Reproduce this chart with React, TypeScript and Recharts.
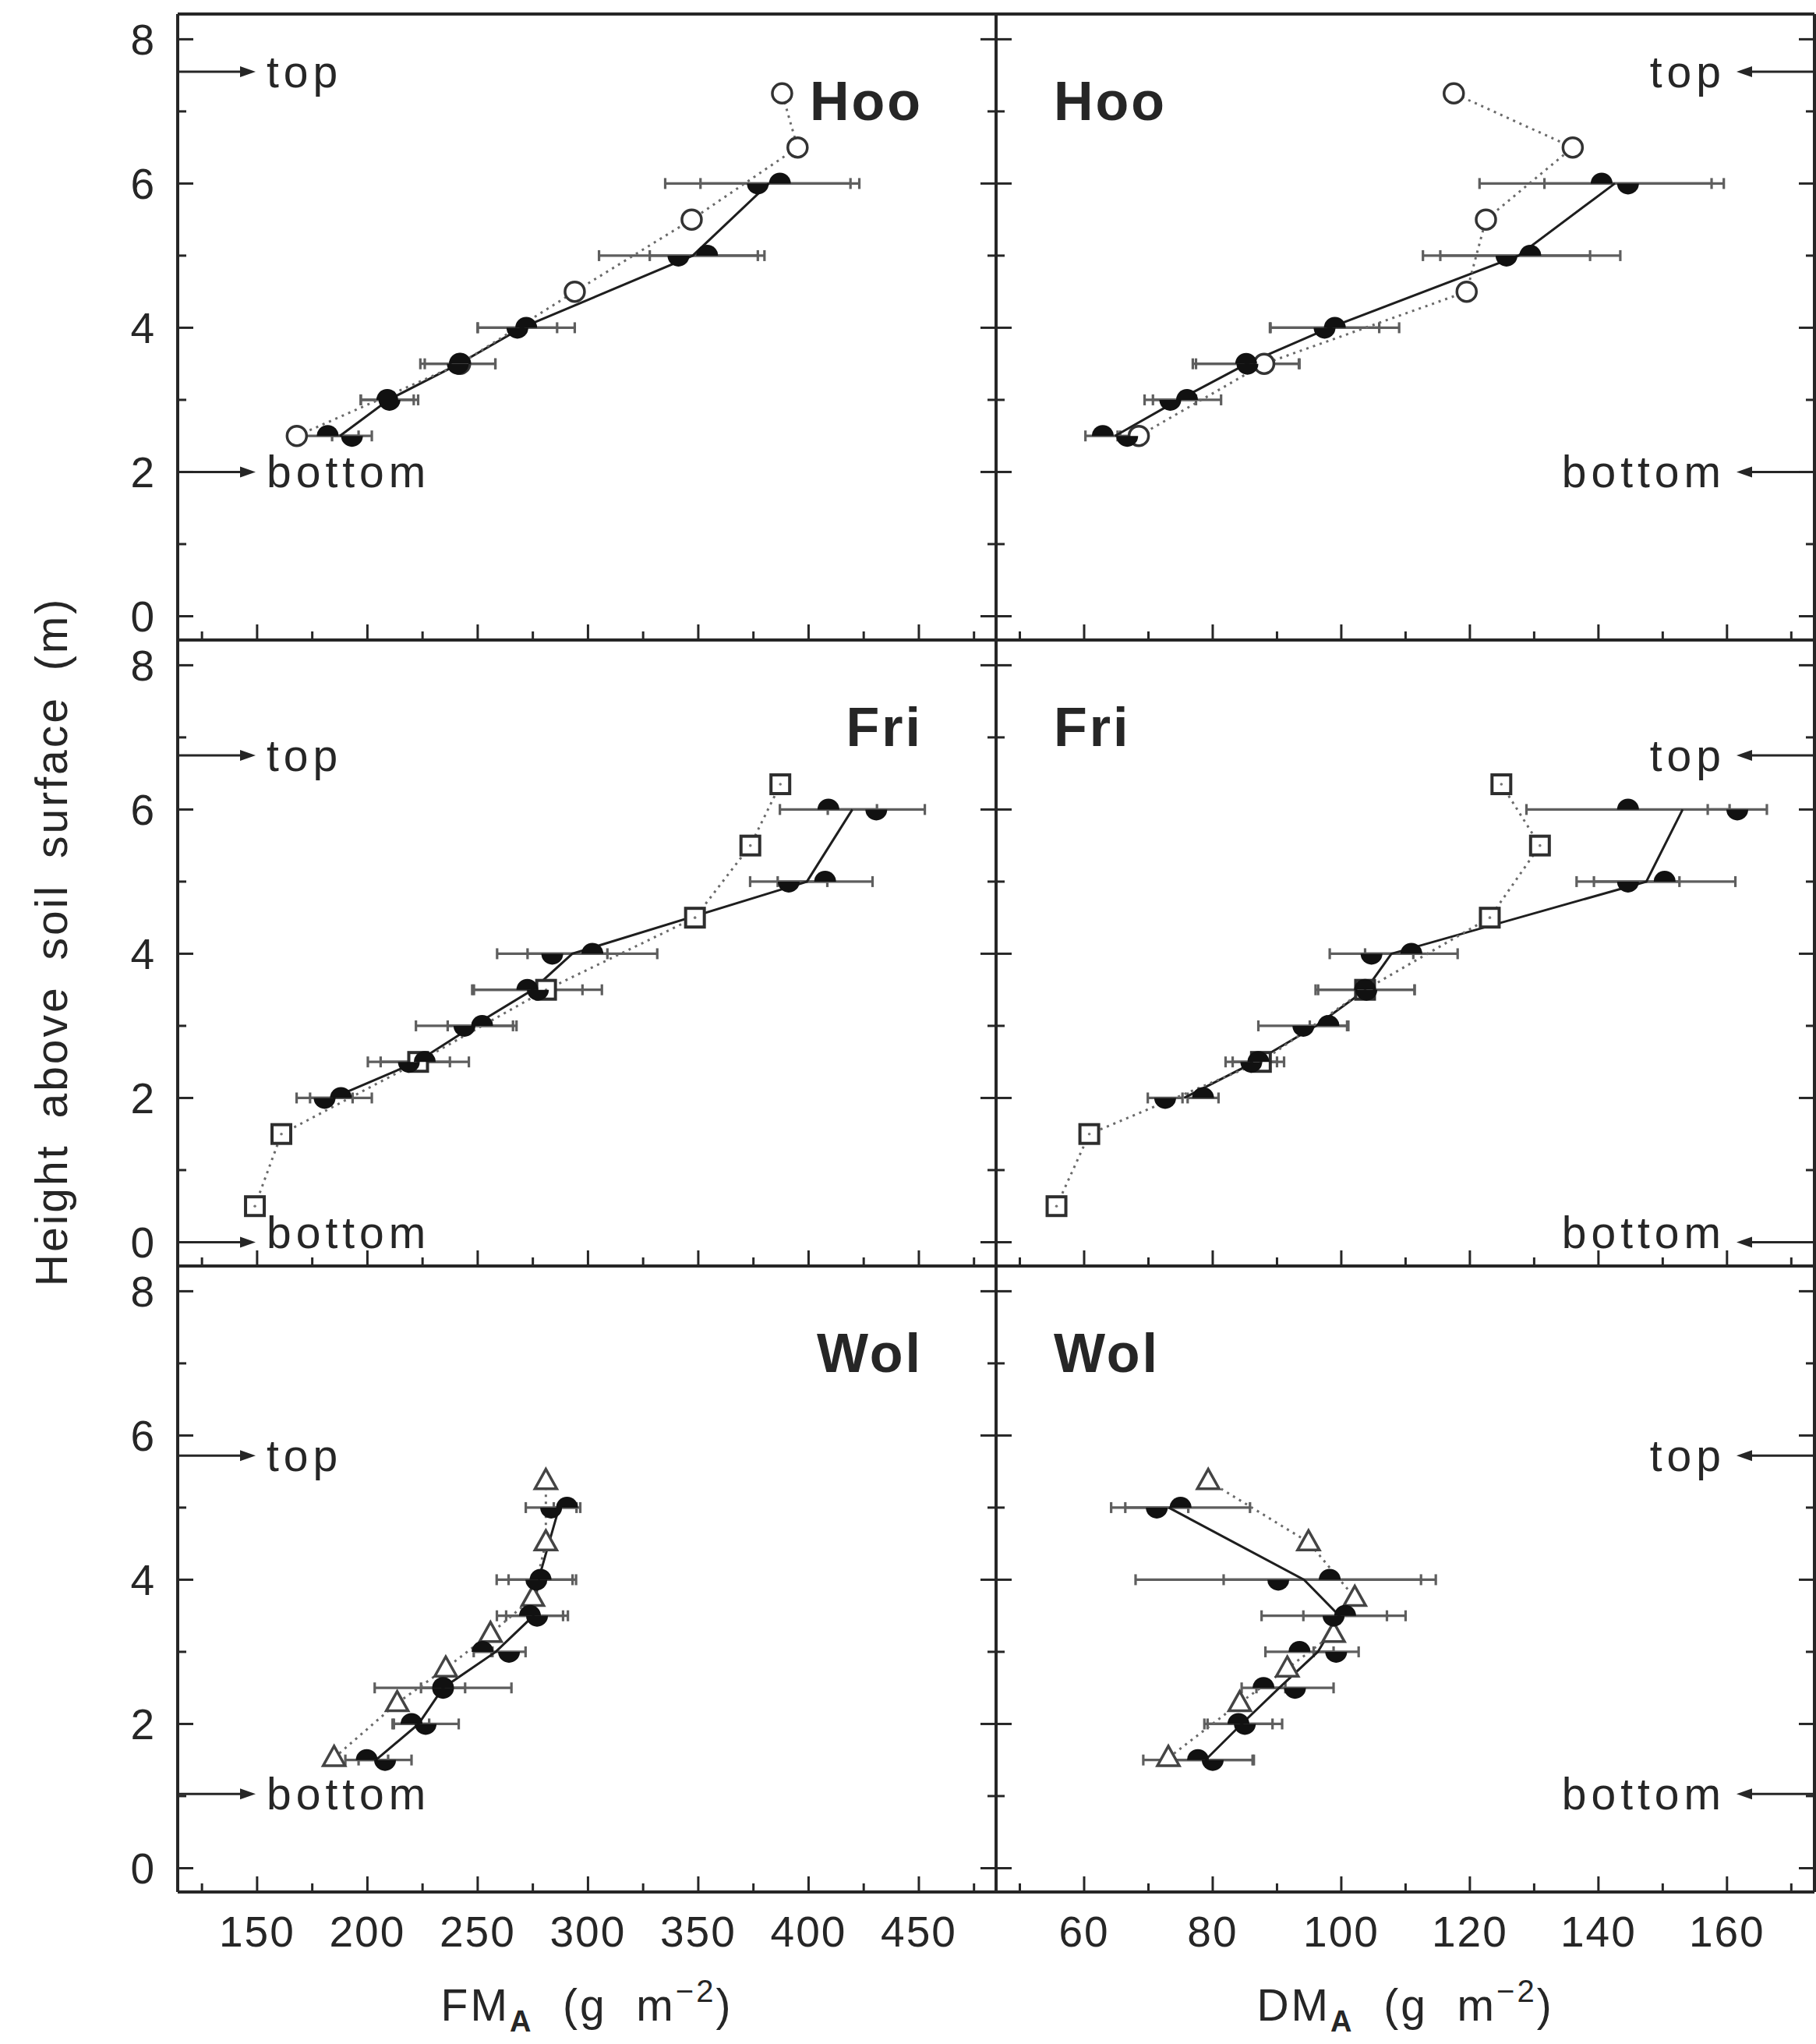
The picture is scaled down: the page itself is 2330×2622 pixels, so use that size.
import React from 'react';
import { ScatterChart, Scatter, XAxis, YAxis, ErrorBar, ReferenceDot } from 'recharts';

// axes
const fmTicks = [125, 150, 175, 200, 225, 250, 275, 300, 325, 350, 375, 400, 425, 450, 475];
const dmTicks = [50, 60, 70, 80, 90, 100, 110, 120, 130, 140, 150, 160, 170];
const heightTicks = [0, 1, 2, 3, 4, 5, 6, 7, 8];
const fmDomain = [114, 485];
const dmDomain = [46.3, 173.6];
const heightDomain = [-0.33, 8.35];

// Hoo
const hooHeights = [2.5, 3, 3.5, 4, 5, 6];
const hooFmUp = [182, 209, 242, 272, 354, 387];
const hooFmUpErr = [14, 12, 16, 22, 26, 36];
const hooFmDown = [193, 210, 241, 268, 341, 377];
const hooFmDownErr = [9, 13, 17, 18, 36, 42];
const hooDmUp = [62.9, 76, 85.2, 99, 129.4, 140.5];
const hooDmUpErr = [2.7, 5.3, 8.3, 10, 14, 19];
const hooDmDown = [66.7, 73.4, 85.4, 97.4, 125.7, 144.6];
const hooDmDownErr = [1.5, 4, 8, 8.5, 13, 13];
const hooOpenHeights = [2.5, 3.5, 4.5, 5.5, 6.5, 7.25];
const hooFmOpen = [168, 242, 294, 347, 395, 388];
const hooDmOpen = [68.5, 88, 119.5, 122.5, 136, 117.5];
const hooCrown = [2.0, 7.55]; // bottom, top

// Fri
const friHeights = [2, 2.5, 3, 3.5, 4, 5, 6];
const friFmUp = [188, 226, 252, 272.5, 302, 407.5, 409];
const friFmUpErr = [14, 20, 15.6, 25, 29.4, 21.5, 22];
const friFmDown = [180.6, 218.8, 244, 277.3, 283.8, 391, 430.7];
const friFmDownErr = [12.7, 18.6, 22, 29, 25, 17.5, 22];
const friDmUp = [78.5, 87.1, 98, 103.7, 110.9, 150.3, 144.6];
const friDmUpErr = [2.4, 4, 2.9, 7.7, 7.2, 11, 15.8];
const friDmDown = [72.6, 86, 94.1, 103.9, 104.7, 144.6, 161.6];
const friDmDownErr = [2.7, 4, 7, 7.5, 6.5, 8, 4.6];
const friOpenHeights = [0.5, 1.5, 2.5, 3.5, 4.5, 5.5, 6.35];
const friFmOpen = [149, 161, 223, 281, 348.5, 373.6, 387.2];
const friDmOpen = [55.7, 60.8, 87.5, 103.7, 123.1, 130.9, 124.9];
const friCrown = [0.0, 6.75];

// Wol
const wolHeights = [1.5, 2, 2.5, 3, 3.5, 4, 5];
const wolFmUp = [199.7, 220, 234.3, 252.2, 273.7, 278.5, 290.5];
const wolFmUpErr = [9.7, 8, 31, 4, 15, 14.5, 6];
const wolFmDown = [208, 226.4, 234.3, 264.2, 276.9, 276.6, 283.3];
const wolFmDownErr = [12, 15, 10, 7.5, 14, 18, 11.5];
const wolDmUp = [77.7, 84, 87.9, 93.5, 100.6, 98.2, 75];
const wolDmUpErr = [8.5, 5.3, 3.4, 5.3, 6.5, 16.5, 10.8];
const wolDmDown = [80, 85, 92.8, 99.2, 98.8, 90.2, 71.3];
const wolDmDownErr = [6.4, 5.8, 6, 3.5, 11.2, 22.2, 4.9];
const wolOpenHeights = [1.53, 2.29, 2.77, 3.25, 3.75, 4.52, 5.37];
const wolFmOpen = [184.9, 213.5, 235.5, 255.8, 275, 280.9, 280.9];
const wolDmOpen = [73.1, 84.2, 91.6, 98.8, 102.1, 94.9, 79.3];
const wolCrown = [1.03, 5.72];

const FONT = '"Liberation Sans", Arial, Helvetica, sans-serif';
const INK = '#262626';
const PLOT_W = 1050;
const PLOT_H = 803;
const PAD = 130;
const COL_X = [228, 1278];
const ROW_Y = [18, 821, 1624];
const R = 14;

type Side = 'bottom' | 'top' | 'left' | 'right';

function tickFor(side: Side, isMajor: (v: number) => boolean, label: boolean) {
  return (props: any) => {
    const { x, y, payload } = props;
    const v = payload.value;
    const major = isMajor(v);
    const len = major ? 20 : 11;
    let x2 = x;
    let y2 = y;
    if (side === 'bottom') y2 = y - len;
    if (side === 'top') y2 = y + len;
    if (side === 'left') x2 = x + len;
    if (side === 'right') x2 = x - len;
    const txt = { fontFamily: FONT, fontSize: 55, fill: INK, letterSpacing: 2 };
    return (
      <g>
        <line x1={x} y1={y} x2={x2} y2={y2} stroke={INK} strokeWidth={3} />
        {label && major && side === 'bottom' && (
          <text x={x} y={y + 70} textAnchor="middle" {...txt}>{v}</text>
        )}
        {label && major && side === 'left' && (
          <text x={x - 28} y={y + 20} textAnchor="end" {...txt}>{v}</text>
        )}
      </g>
    );
  };
}

const HalfUp = (p: any) => (
  <path d={`M${p.cx - R},${p.cy} A${R},${R} 0 0 1 ${p.cx + R},${p.cy} Z`} fill="#111" />
);
const HalfDown = (p: any) => (
  <path d={`M${p.cx - R},${p.cy} A${R},${R} 0 0 0 ${p.cx + R},${p.cy} Z`} fill="#111" />
);
const NoDot = () => <g />;

const OpenCircle = (p: any) => (
  <circle cx={p.cx} cy={p.cy} r={12.5} fill="#fff" stroke="#333" strokeWidth={3.5} />
);
const OpenSquare = (p: any) => (
  <g>
    <rect x={p.cx - 12} y={p.cy - 12} width={24} height={24} fill="#fff" stroke="#2e2e2e" strokeWidth={4} />
    <circle cx={p.cx} cy={p.cy} r={1.8} fill="#777" />
  </g>
);
const OpenTriangle = (p: any) => (
  <path
    d={`M${p.cx},${p.cy - 15} L${p.cx + 14},${p.cy + 10} L${p.cx - 14},${p.cy + 10} Z`}
    fill="#fff"
    stroke="#444"
    strokeWidth={3.5}
  />
);

const MARKERS: Record<string, (p: any) => React.ReactElement> = {
  circle: OpenCircle,
  square: OpenSquare,
  triangle: OpenTriangle,
};

// arrow from the frame edge into the plot, with its label
function crownMark(side: 'left' | 'right', text: string, nearFrame: boolean) {
  return (p: any) => {
    const { cx, cy } = p;
    const d = side === 'left' ? 1 : -1;
    const tip = cx + d * 100;
    return (
      <g>
        <line x1={cx} y1={cy} x2={tip - d * 14} y2={cy} stroke={INK} strokeWidth={3} />
        <path d={`M${tip},${cy} L${tip - d * 20},${cy - 7} L${tip - d * 20},${cy + 7} Z`} fill={INK} />
        <text
          x={cx + d * 114}
          y={cy + (nearFrame ? 8 : 20)}
          textAnchor={side === 'left' ? 'start' : 'end'}
          fontFamily={FONT}
          fontSize={57}
          letterSpacing={6}
          fill={INK}
        >
          {text}
        </text>
      </g>
    );
  };
}

const pts = (xs: number[], ys: number[], errs?: number[]) =>
  xs.map((x, i) => ({ x, y: ys[i], err: errs ? errs[i] : 0 }));

type PanelProps = {
  col: number;
  row: number;
  heights: number[];
  up: number[];
  upErr: number[];
  down: number[];
  downErr: number[];
  openHeights: number[];
  open: number[];
  crown: number[];
  marker: string;
};

function Panel({ col, row, heights, up, upErr, down, downErr, openHeights, open, crown, marker }: PanelProps) {
  const xDomain = col === 0 ? fmDomain : dmDomain;
  const xTicks = col === 0 ? fmTicks : dmTicks;
  const xMajor = col === 0 ? (v: number) => v % 50 === 0 : (v: number) => v % 20 === 0;
  const yMajor = (v: number) => v % 2 === 0;
  const means = up.map((u, i) => (u + down[i]) / 2);
  const side = col === 0 ? 'left' : 'right';
  const edgeX = col === 0 ? xDomain[0] : xDomain[1];
  const axisLine = { stroke: INK, strokeWidth: 4 };
  const errStyle = { stroke: '#5e5e5e', strokeWidth: 3.2 };

  return (
    <div style={{ position: 'absolute', left: COL_X[col] - PAD, top: ROW_Y[row] - PAD }}>
      <ScatterChart
        width={PLOT_W + 2 * PAD}
        height={PLOT_H + 2 * PAD}
        margin={{ top: PAD - 1, right: PAD - 1, bottom: PAD - 1, left: PAD - 1 }}
      >
        <XAxis
          xAxisId="b"
          type="number"
          dataKey="x"
          orientation="bottom"
          domain={xDomain}
          ticks={xTicks}
          allowDataOverflow
          interval={0}
          height={1}
          tickSize={0}
          tickMargin={0}
          tickLine={false}
          axisLine={axisLine}
          tick={tickFor('bottom', xMajor, row === 2)}
        />
        <XAxis
          xAxisId="t"
          type="number"
          orientation="top"
          domain={xDomain}
          ticks={xTicks}
          allowDataOverflow
          interval={0}
          height={1}
          tickSize={0}
          tickMargin={0}
          tickLine={false}
          axisLine={axisLine}
          tick={tickFor('top', xMajor, false)}
        />
        <YAxis
          yAxisId="l"
          type="number"
          dataKey="y"
          orientation="left"
          domain={heightDomain}
          ticks={heightTicks}
          allowDataOverflow
          interval={0}
          width={1}
          tickSize={0}
          tickMargin={0}
          tickLine={false}
          axisLine={axisLine}
          tick={tickFor('left', yMajor, col === 0)}
        />
        <YAxis
          yAxisId="r"
          type="number"
          orientation="right"
          domain={heightDomain}
          ticks={heightTicks}
          allowDataOverflow
          interval={0}
          width={1}
          tickSize={0}
          tickMargin={0}
          tickLine={false}
          axisLine={axisLine}
          tick={tickFor('right', yMajor, false)}
        />
        <Scatter
          xAxisId="b"
          yAxisId="l"
          data={pts(means, heights)}
          line={{ stroke: '#1e1e1e', strokeWidth: 3 }}
          shape={NoDot}
          isAnimationActive={false}
        />
        <Scatter
          xAxisId="b"
          yAxisId="l"
          data={pts(open, openHeights)}
          line={{ stroke: '#6a6a6a', strokeWidth: 3, strokeDasharray: '3 6' }}
          shape={MARKERS[marker]}
          isAnimationActive={false}
        />
        <Scatter
          xAxisId="b"
          yAxisId="l"
          data={pts(down, heights, downErr)}
          shape={HalfDown}
          isAnimationActive={false}
        >
          <ErrorBar dataKey="err" direction="x" width={7} {...errStyle} isAnimationActive={false} />
        </Scatter>
        <Scatter
          xAxisId="b"
          yAxisId="l"
          data={pts(up, heights, upErr)}
          shape={HalfUp}
          isAnimationActive={false}
        >
          <ErrorBar dataKey="err" direction="x" width={7} {...errStyle} isAnimationActive={false} />
        </Scatter>
        <ReferenceDot
          xAxisId="b"
          yAxisId="l"
          x={edgeX}
          y={crown[1]}
          ifOverflow="visible"
          shape={crownMark(side, 'top', false)}
        />
        <ReferenceDot
          xAxisId="b"
          yAxisId="l"
          x={edgeX}
          y={crown[0]}
          ifOverflow="visible"
          shape={crownMark(side, 'bottom', crown[0] < 0.3)}
        />
      </ScatterChart>
    </div>
  );
}

const sites = [
  {
    name: 'Hoo', heights: hooHeights, openHeights: hooOpenHeights, crown: hooCrown, marker: 'circle',
    fm: [hooFmUp, hooFmUpErr, hooFmDown, hooFmDownErr, hooFmOpen],
    dm: [hooDmUp, hooDmUpErr, hooDmDown, hooDmDownErr, hooDmOpen],
  },
  {
    name: 'Fri', heights: friHeights, openHeights: friOpenHeights, crown: friCrown, marker: 'square',
    fm: [friFmUp, friFmUpErr, friFmDown, friFmDownErr, friFmOpen],
    dm: [friDmUp, friDmUpErr, friDmDown, friDmDownErr, friDmOpen],
  },
  {
    name: 'Wol', heights: wolHeights, openHeights: wolOpenHeights, crown: wolCrown, marker: 'triangle',
    fm: [wolFmUp, wolFmUpErr, wolFmDown, wolFmDownErr, wolFmOpen],
    dm: [wolDmUp, wolDmUpErr, wolDmDown, wolDmDownErr, wolDmOpen],
  },
];

export default function App() {
  const title = { fontFamily: FONT, fontSize: 57, fill: INK, letterSpacing: 3 };
  return (
    <div style={{ position: 'absolute', left: 0, top: 0, width: 2330, height: 2622, background: '#fff' }}>
      {sites.map((s, row) =>
        [s.fm, s.dm].map((v, col) => (
          <Panel
            key={`${s.name}-${col}`}
            col={col}
            row={row}
            heights={s.heights}
            up={v[0]}
            upErr={v[1]}
            down={v[2]}
            downErr={v[3]}
            open={v[4]}
            openHeights={s.openHeights}
            crown={s.crown}
            marker={s.marker}
          />
        ))
      )}
      <svg
        width={2330}
        height={2622}
        style={{ position: 'absolute', left: 0, top: 0, pointerEvents: 'none' }}
      >
        {sites.map((s, row) => (
          <g key={s.name}>
            <text x={1184} y={ROW_Y[row] + 136} textAnchor="end" fontFamily={FONT} fontWeight="bold" fontSize={70} fill={INK} letterSpacing={3}>
              {s.name}
            </text>
            <text x={1352} y={ROW_Y[row] + 136} textAnchor="start" fontFamily={FONT} fontWeight="bold" fontSize={70} fill={INK} letterSpacing={3}>
              {s.name}
            </text>
          </g>
        ))}
        <text x={86} y={1208} textAnchor="middle" transform="rotate(-90 86 1208)" {...title} wordSpacing={14}>
          Height above soil surface (m)
        </text>
        {['FM', 'DM'].map((t, i) => (
          <text
            key={t}
            x={i === 0 ? 753 : 1803}
            y={2592}
            textAnchor="middle"
            xmlSpace="preserve"
            style={{ whiteSpace: 'pre' }}
            {...title}
          >
            <tspan>{t}</tspan>
            <tspan dy={14} fontSize={38} fontWeight="bold">A</tspan>
            <tspan dy={-14}>{'  (g  m'}</tspan>
            <tspan dy={-24} fontSize={40}>−2</tspan>
            <tspan dy={24}>)</tspan>
          </text>
        ))}
      </svg>
    </div>
  );
}
